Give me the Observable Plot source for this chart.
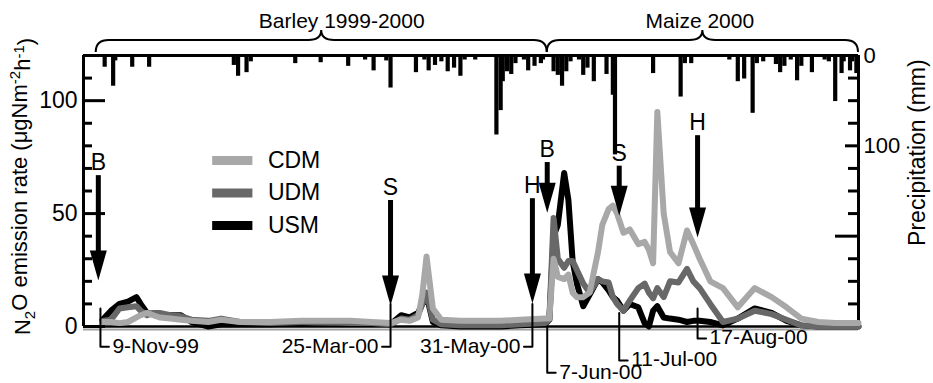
<!DOCTYPE html>
<html><head><meta charset="utf-8">
<script src="https://cdn.jsdelivr.net/npm/d3@7"></script>
<script src="https://cdn.jsdelivr.net/npm/@observablehq/plot@0.6"></script>
<style>body{margin:0;background:#fff} svg{display:block}</style>
</head><body><div id="chart"></div>
<script>
// ---- data ----
const sampleDates = ["1999-11-10","1999-11-14","1999-11-18","1999-11-22","1999-11-26","1999-11-28",
"1999-12-01","1999-12-04","1999-12-07","1999-12-12","1999-12-17","1999-12-22","1999-12-30",
"2000-01-05","2000-01-14","2000-01-28","2000-02-12","2000-02-21","2000-03-06","2000-03-16","2000-03-25","2000-03-30",
"2000-04-03","2000-04-07","2000-04-09","2000-04-11","2000-04-14","2000-04-18","2000-04-27",
"2000-05-07","2000-05-16","2000-05-25",
"2000-06-06","2000-06-08","2000-06-10","2000-06-12","2000-06-15","2000-06-17","2000-06-19","2000-06-21","2000-06-24","2000-06-27",
"2000-07-01","2000-07-03","2000-07-06","2000-07-08","2000-07-10","2000-07-13","2000-07-16","2000-07-20","2000-07-23","2000-07-25","2000-07-27","2000-07-29",
"2000-08-01","2000-08-04","2000-08-08","2000-08-12","2000-08-15","2000-08-18","2000-08-23","2000-08-29",
"2000-09-05","2000-09-13","2000-09-21","2000-09-28","2000-10-05","2000-10-13","2000-10-21","2000-11-01"];
const cdm = [2,2,1.5,2,4,5, 6,5,4,3.5,3,2.5,2, 3,2,2,2.5,2.5,2.5,2,1.5,3, 2.5,4,14,31,8,3,2.5, 2.5,2.5,3,
3.5,3.5,30,22,21,23,15,13,13,15, 33,45,52,53.5,50,41.5,43,36.5,37.5,34,28,95, 50,33,28,42.5,36.5,30,20,17,
8.5,17,13,8.5,3.5,2,1.5,1.5];
const udm = [2.5,3,8,8.5,9,7, 5,6,6,5,4.5,3,2.5, 3.5,2,1.5,2,2,1.5,1.5,1,3.5, 3,5,10,15,3,1,0.5, 0.5,0.5,1,
1.5,3,48,30,26,29,29,25,19,15, 21,20,19.5,13,10,7,11.5,17,19,15,12.5,17, 13,20,19.5,25.5,20,17,10,2,
3.5,7,5.5,3,0.5,0,0,0];
const usm = [3,7,10,11,13,10, 6,5.5,5,5,5,2,0, 1,1,1,1.5,2,1.5,1.5,1,5, 4,6,10,14,2,0.5,0, 0,0,0.5,
1,3,40,45,68,56,29,19,9,14, 21,19.5,16,13,11.5,7,10,8.5,1.5,0,7,9, 4,3.5,3,2,2.5,2.5,2,0.5,
3.5,8,6,2.5,0.5,0,0,0];
const seriesNames = ["CDM", "UDM", "USM"];
const seriesColors = ["#a8a8a8", "#686868", "#000000"];

const precipDates = ["1999-11-11","1999-11-15","1999-11-16","1999-11-24","1999-12-02","2000-01-11","2000-01-13","2000-01-17","2000-01-19",
"2000-02-09","2000-02-21","2000-03-05","2000-03-13","2000-03-17","2000-03-23","2000-03-25","2000-04-06","2000-04-10","2000-04-12",
"2000-04-15","2000-04-18","2000-04-21","2000-04-24","2000-04-27","2000-04-29","2000-05-04","2000-05-14","2000-05-16","2000-05-17",
"2000-05-19","2000-05-21","2000-05-23","2000-05-27","2000-05-29","2000-06-01","2000-06-04","2000-06-05","2000-06-10","2000-06-12",
"2000-06-14","2000-06-16","2000-06-18","2000-06-22","2000-06-24","2000-06-26","2000-06-29","2000-07-05","2000-07-08","2000-07-09",
"2000-07-27","2000-08-09","2000-08-11","2000-08-14","2000-09-01","2000-09-05","2000-09-08","2000-09-12","2000-09-14","2000-09-17",
"2000-09-23","2000-09-25","2000-09-27","2000-09-30","2000-10-03","2000-10-05","2000-10-10","2000-10-16","2000-10-18","2000-10-21",
"2000-10-24","2000-10-25","2000-10-28","2000-10-29","2000-10-31"];
const precipMm = [13,34,6,13,13,11,23,19,7, 9,8,12,5,17,6,36,19,5,17, 11,7,18,14,23,5,5,88,61,29,
18,21,9,5,17,12,9,5,18,22, 34,18,7,5,22,14,29,21,44,110, 20,46,9,9,5,29,26,64,9,7,
10,19,12,5,28,12,19,5,7,51, 20,7,17,7,20];

const leftTicks = [0,10,20,30,40,50,60,70,80,90,100,110,120];
const leftMajor = [0, 50, 100];
const precipTicks = [25,50,75,100,125,150,175,200,225,250,275];
const precipLabels = [0, 100];

const arrowDates = ["1999-11-08","2000-03-25","2000-05-31","2000-06-07","2000-07-11","2000-08-17"];
const arrowLabels = ["B","S","H","B","S","H"];
const arrowTop = [66.8, 55.8, 56.6, 72.6, 71, 84.5];
const arrowTip = [20.4, 9.3, 10.2, 50.4, 49, 39.4];

const eventDates = ["1999-11-09","2000-03-25","2000-05-31","2000-06-07","2000-07-11","2000-08-17"];
const eventLabels = ["9-Nov-99","25-Mar-00","31-May-00","7-Jun-00","11-Jul-00","17-Aug-00"];
const eventTop = [8, 10, 10, 0, 6, 8];
const eventBottom = [-9, -9, -9, -20.5, -15, -5.3];
const eventSide = [1, -1, -1, 1, 1, 1];

const seasonLabels = ["Barley 1999-2000", "Maize 2000"];
const seasonStart = ["1999-11-07", "2000-06-07"];
const seasonEnd = ["2000-06-07", "2000-11-01"];

// ---- build ----
const parse = d3.utcParse("%Y-%m-%d");
const X0 = parse("1999-11-01"), X1 = parse("2000-11-01");
const YMAX = 120, PMAX = 300;
const toY = p => YMAX - p * YMAX / PMAX;
const W = 933, H = 383, ML = 83, MR = 75, MT = 55, MB = 57;
const FW = W - ML - MR;
const FONT = "Liberation Sans, Arial, Helvetica, sans-serif";

const series = [cdm, udm, usm].map(vals => sampleDates.map((d, i) => ({date: parse(d), value: vals[i]})));
const precip = precipDates.map((d, i) => ({date: parse(d), mm: precipMm[i]}));
const arrows = arrowDates.map((d, i) => ({date: parse(d), label: arrowLabels[i], top: arrowTop[i], tip: arrowTip[i]}));
const events = eventDates.map((d, i) => ({date: parse(d), label: eventLabels[i], top: eventTop[i], bottom: eventBottom[i], side: eventSide[i]}));
const bracketPts = events.flatMap((e, i) => [
  {k: i, date: e.date, y: e.top},
  {k: i, date: e.date, y: e.bottom},
  {k: i, date: d3.utcDay.offset(e.date, 4 * e.side), y: e.bottom}
]);
const seasons = seasonLabels.map((l, i) => ({label: l, start: parse(seasonStart[i]), end: parse(seasonEnd[i])}));

const arrowHead = {draw(ctx) { ctx.moveTo(0, 0); ctx.lineTo(-8.5, -30); ctx.lineTo(8.5, -30); ctx.closePath(); }};

function braces(index, scales) {
  const {x, y} = scales;
  const g = document.createElementNS("http://www.w3.org/2000/svg", "g");
  for (const s of seasons) {
    const x0 = x(s.start), x1 = x(s.end), xm = (x0 + x1) / 2;
    const yb = y(YMAX) - 3, ys = yb - 12, yt = yb - 22, r = 13;
    const p = document.createElementNS("http://www.w3.org/2000/svg", "path");
    p.setAttribute("d", `M${x0},${yb} Q${x0},${ys} ${x0 + r},${ys} L${xm - r},${ys} Q${xm},${ys} ${xm},${yt} Q${xm},${ys} ${xm + r},${ys} L${x1 - r},${ys} Q${x1},${ys} ${x1},${yb}`);
    p.setAttribute("fill", "none");
    p.setAttribute("stroke", "#000");
    p.setAttribute("stroke-width", "2");
    g.appendChild(p);
  }
  return g;
}

const legendY = (d, i) => 73.5 - i * 14.4;

const chart = Plot.plot({
  width: W, height: H,
  marginLeft: ML, marginRight: MR, marginTop: MT, marginBottom: MB,
  x: {type: "utc", domain: [X0, X1], axis: null},
  y: {domain: [0, YMAX], axis: null},
  color: {domain: seriesNames, range: seriesColors},
  style: {fontFamily: FONT, fontSize: "21px", background: "#fff", color: "#000", overflow: "visible"},
  marks: [
    // precipitation bars hanging from top
    Plot.ruleX(precip, {x: "date", y1: () => YMAX, y2: d => toY(d.mm), stroke: "#000", strokeWidth: 4.2}),
    // frame
    Plot.ruleY([0], {y: d => d, stroke: "#a0a0a0", strokeWidth: 2, dy: 3}),
    Plot.ruleY([0], {y: d => d, stroke: "#000", strokeWidth: 2.5}),
    Plot.ruleY([YMAX], {y: d => d, stroke: "#000", strokeWidth: 3}),
    Plot.ruleX([X0, X1], {x: d => d, y1: () => 0, y2: () => YMAX, stroke: "#000", strokeWidth: 3}),
    // left ticks (inward)
    Plot.ruleY(leftTicks.filter(v => !leftMajor.includes(v)), {y: d => d, insetRight: FW - 9, strokeWidth: 3}),
    Plot.ruleY(leftMajor, {y: d => d, insetRight: FW - 22, strokeWidth: 3}),
    Plot.text(leftMajor, {y: d => d, text: d => String(d), frameAnchor: "left", textAnchor: "end", dx: -6, fontSize: 23}),
    // right (precipitation) ticks
    Plot.ruleY(precipTicks.filter(v => v !== 100 && v !== 200), {y: d => toY(d), insetLeft: FW - 10, strokeWidth: 3}),
    Plot.ruleY([100], {y: d => toY(d), insetLeft: FW - 13, strokeWidth: 3}),
    Plot.ruleY([200], {y: d => toY(d), insetLeft: FW - 23, strokeWidth: 3}),
    Plot.text(precipLabels, {y: d => toY(d), text: d => String(d), frameAnchor: "right", textAnchor: "start", dx: 5, fontSize: 22}),
    // axis titles
    Plot.text(["N₂O emission rate (μgNm⁻²h⁻¹)"], {frameAnchor: "left", textAnchor: "middle", y: () => 62, dx: -61, rotate: -90, fontSize: 22, text: d => d}),
    Plot.text(["Precipitation (mm)"], {frameAnchor: "right", textAnchor: "middle", y: () => 77, dx: 59, rotate: -90, fontSize: 23, text: d => d}),
    // emission lines
    Plot.line(series[2], {x: "date", y: "value", stroke: seriesColors[2], strokeWidth: 6, strokeLinejoin: "round"}),
    Plot.line(series[1], {x: "date", y: "value", stroke: seriesColors[1], strokeWidth: 6, strokeLinejoin: "round"}),
    Plot.line(series[0], {x: "date", y: "value", stroke: seriesColors[0], strokeWidth: 6, strokeLinejoin: "round"}),
    // event brackets & labels
    Plot.line(bracketPts, {x: "date", y: "y", z: "k", stroke: "#000", strokeWidth: 2}),
    Plot.text(events.filter(e => e.side > 0), {x: "date", y: "bottom", text: "label", textAnchor: "start", dx: 12, dy: -1, fontSize: 21}),
    Plot.text(events.filter(e => e.side < 0), {x: "date", y: "bottom", text: "label", textAnchor: "end", dx: -12, dy: -1, fontSize: 21}),
    // arrows
    Plot.ruleX(arrows, {x: "date", y1: "top", y2: "tip", stroke: "#000", strokeWidth: 5, insetBottom: 12}),
    Plot.dot(arrows, {x: "date", y: "tip", symbol: arrowHead, fill: "#000", stroke: "none"}),
    Plot.text(arrows, {x: "date", y: "top", text: "label", dy: -13, fontSize: 23}),
    // season braces
    braces,
    Plot.text([seasons[0]], {x: d => new Date((+d.start + +d.end) / 2), y: () => 135.2, text: "label", dx: 20, fontSize: 21}),
    Plot.text([seasons[1]], {x: d => new Date((+d.start + +d.end) / 2), y: () => 135.2, text: "label", dx: -3, fontSize: 21}),
    // legend
    Plot.ruleY(seriesNames, {y: legendY, x1: () => parse("2000-01-01"), x2: () => parse("2000-01-20"), stroke: d => d, strokeWidth: 9}),
    Plot.text(seriesNames, {y: legendY, x: () => parse("2000-01-20"), text: d => d, textAnchor: "start", dx: 15, fontSize: 23})
  ]
});

// rich formatting of the left title (sub/superscripts)
chart.querySelectorAll("text").forEach(t => {
  if (t.textContent === "N₂O emission rate (μgNm⁻²h⁻¹)") {
    const parts = [["N", 0], ["2", 1], ["O emission rate (μgNm", 0], ["-2", -1], ["h", 0], ["-1", -1], [")", 0]];
    while (t.firstChild) t.removeChild(t.firstChild);
    let shift = 0;
    for (const [s, k] of parts) {
      const ts = document.createElementNS("http://www.w3.org/2000/svg", "tspan");
      const target = k === 1 ? 0.35 : k === -1 ? -0.45 : 0;
      ts.setAttribute("dy", `${(target - shift).toFixed(2)}em`);
      if (k !== 0) ts.setAttribute("font-size", "15");
      ts.textContent = s;
      shift = target;
      t.appendChild(ts);
    }
  }
});

document.getElementById("chart").appendChild(chart);
</script>
</body></html>
